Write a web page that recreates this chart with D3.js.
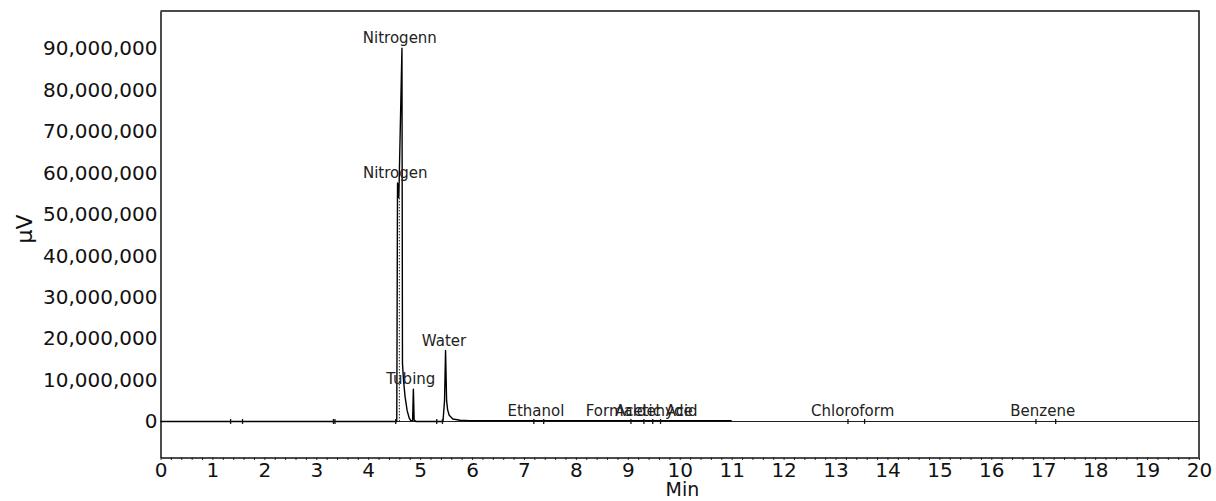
<!DOCTYPE html>
<html>
<head>
<meta charset="utf-8">
<script src="https://cdn.jsdelivr.net/npm/d3@7"></script>
<style>
  body { margin: 0; background: #fff; }
  svg { display: block; font-family: "DejaVu Sans", sans-serif; }
</style>
</head>
<body>
<div id="chart"></div>
<script>
// chromatogram trace (time in min, signal in µV)
const traceTime   = [0, 4.55, 4.565, 4.59, 4.65, 4.66, 4.68, 4.71, 4.75, 4.79, 4.82, 4.855, 4.87, 4.885, 4.92,
                     5.44, 5.47, 5.49, 5.51, 5.53, 5.56, 5.63, 5.77, 5.95, 11.0];
const traceSignal = [0, 0, 57.5e6, 54e6, 90e6, 14e6, 10e6, 6e6, 2.6e6, 0.8e6, 0.2e6, 0.2e6, 7.8e6, 0.3e6, 0,
                     0, 5e6, 17.1e6, 5e6, 2.8e6, 1.5e6, 0.6e6, 0.3e6, 0.15e6, 0.15e6];

// peak labels
const peakNames = ["Nitrogenn", "Nitrogen", "Tubing", "Water", "Ethanol", "Formaldehyde", "Acetic Acid", "Chloroform", "Benzene"];
const peakTimes = [4.61, 4.52, 4.82, 5.46, 7.23, 9.22, 9.55, 13.33, 16.99];
const peakApex  = [90e6, 57.5e6, 7.8e6, 17.1e6, 0, 0, 0, 0, 0];

// integration markers on the baseline
const markTimes = [1.35, 1.58, 3.33, 3.36, 4.53, 5.32, 5.43, 7.19, 7.38, 9.06, 9.31, 9.48, 9.63, 13.24, 13.56, 16.86, 17.24];

// drop line between the two nitrogen peaks
const dropTime = 4.60;
const dropValue = 54e6;

const xTicks = d3.range(0, 21, 1);
const yTicks = d3.range(0, 90e6 + 1, 10e6);

const W = 1216, H = 501;
const margin = {top: 11, right: 17, bottom: 43.5, left: 160.5};

const svg = d3.select("#chart")
  .append("svg")
  .attr("width", W)
  .attr("height", H);

const x = d3.scaleLinear()
  .domain([0, 20])
  .range([margin.left, W - margin.right]);

const y = d3.scaleLinear()
  .domain([-8.7e6, 99e6])
  .range([H - margin.bottom, margin.top]);

// frame (top and right)
svg.append("path")
  .attr("d", `M${x(0)},${y(99e6)}H${x(20)}V${y(-8.7e6)}`)
  .attr("fill", "none")
  .attr("stroke", "#111")
  .attr("stroke-width", 1.5);

// zero line
svg.append("line")
  .attr("x1", x(0)).attr("x2", x(20))
  .attr("y1", y(0)).attr("y2", y(0))
  .attr("stroke", "#222")
  .attr("stroke-width", 1.1);

// x axis minor ticks
svg.append("g")
  .attr("transform", `translate(0,${y(-8.7e6)})`)
  .call(d3.axisBottom(x).tickValues(d3.range(0, 20.01, 0.2)).tickSize(2.5).tickFormat(""))
  .call(g => g.select(".domain").remove())
  .selectAll("line").attr("stroke", "#333");

// x axis
const xAxis = svg.append("g")
  .attr("transform", `translate(0,${y(-8.7e6)})`)
  .call(d3.axisBottom(x).tickValues(xTicks).tickSize(0).tickPadding(5).tickFormat(d3.format("d")));
xAxis.select(".domain").attr("stroke", "#111").attr("stroke-width", 1.5);
xAxis.selectAll("text").attr("font-size", 20).attr("font-family", "DejaVu Sans").attr("fill", "#111");

// y axis
const yAxis = svg.append("g")
  .attr("transform", `translate(${x(0)},0)`)
  .call(d3.axisLeft(y).tickValues(yTicks).tickSize(0).tickPadding(3).tickFormat(d3.format(",")));
yAxis.select(".domain").attr("stroke", "#111").attr("stroke-width", 1.5);
yAxis.selectAll("text").attr("font-size", 20).attr("font-family", "DejaVu Sans").attr("fill", "#111");

// axis titles
svg.append("text")
  .attr("transform", `translate(32,229) rotate(-90)`)
  .attr("text-anchor", "middle")
  .attr("font-size", 22)
  .attr("fill", "#111")
  .text("μV");

svg.append("text")
  .attr("x", x(10.05))
  .attr("y", 496)
  .attr("text-anchor", "middle")
  .attr("font-size", 19)
  .attr("fill", "#111")
  .text("Min");

// drop line
svg.append("line")
  .attr("x1", x(dropTime)).attr("x2", x(dropTime))
  .attr("y1", y(0)).attr("y2", y(dropValue))
  .attr("stroke", "#222")
  .attr("stroke-width", 1)
  .attr("stroke-dasharray", "1.5,1.5");

// trace
const traceData = traceTime.map((t, i) => ({t: t, v: traceSignal[i]}));
svg.append("path")
  .datum(traceData)
  .attr("fill", "none")
  .attr("stroke", "#000")
  .attr("stroke-width", 1.4)
  .attr("stroke-linejoin", "round")
  .attr("d", d3.line().x(d => x(d.t)).y(d => y(d.v)));

// baseline markers
svg.append("g")
  .selectAll("line")
  .data(markTimes)
  .join("line")
  .attr("x1", d => x(d)).attr("x2", d => x(d))
  .attr("y1", y(0) - 2.5).attr("y2", y(0) + 2.5)
  .attr("stroke", "#111")
  .attr("stroke-width", 1.3);

// peak labels
const peaks = peakNames.map((n, i) => ({name: n, t: peakTimes[i], apex: peakApex[i]}));
svg.append("g")
  .selectAll("text")
  .data(peaks)
  .join("text")
  .attr("x", d => x(d.t))
  .attr("y", d => y(d.apex) - 5)
  .attr("text-anchor", "middle")
  .attr("font-size", 15)
  .attr("fill", "#222")
  .text(d => d.name);
</script>
</body>
</html>
